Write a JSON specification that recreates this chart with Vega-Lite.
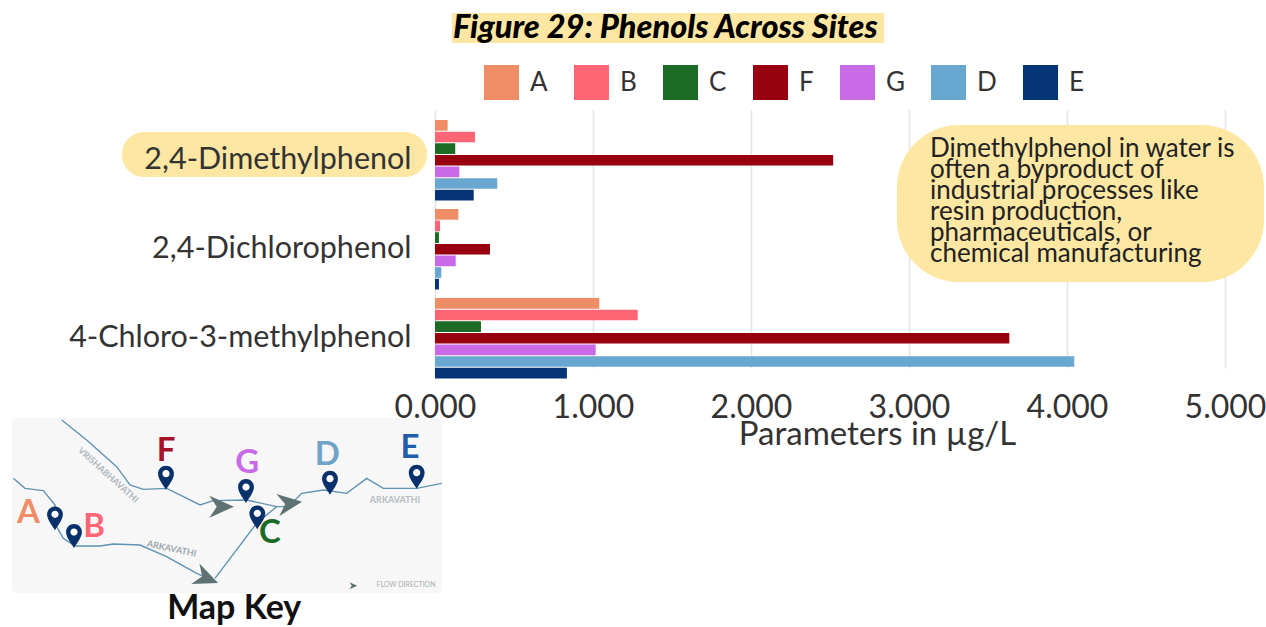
{"$schema":"https://vega.github.io/schema/vega-lite/v6.json","width":790,"height":268,"autosize":"none","padding":{"left":435,"top":110,"right":41,"bottom":249},"background":"white","config":{"view":{"stroke":null},"font":"Lato"},"title":{"text":"Figure 29: Phenols Across Sites","anchor":"start","frame":"group","dx":18,"offset":-32,"font":"Lato","fontSize":32.5,"fontWeight":900,"fontStyle":"italic","color":"#000000"},"resolve":{"scale":{"x":"independent","y":"independent","color":"independent"},"axis":{"x":"independent","y":"independent"}},"layer":[{"data":{"values":[{}]},"mark":{"type":"rect","cornerRadius":0,"color":"#FEE7A3"},"encoding":{"x":{"datum":35.7,"type":"quantitative","scale":{"domain":[0,100],"range":[-435,831]},"axis":null},"x2":{"datum":69.83},"y":{"datum":2.07,"type":"quantitative","scale":{"domain":[0,100],"range":[-110,517]},"axis":null},"y2":{"datum":6.86}}},{"data":{"values":[{}]},"mark":{"type":"rect","cornerRadius":22,"color":"#FEE7A3"},"encoding":{"x":{"datum":9.64,"type":"quantitative","scale":{"domain":[0,100],"range":[-435,831]},"axis":null},"x2":{"datum":33.73},"y":{"datum":21.05,"type":"quantitative","scale":{"domain":[0,100],"range":[-110,517]},"axis":null},"y2":{"datum":28.23}}},{"data":{"values":[{"compound":"2,4-Dimethylphenol","site":"A","value":0.08},{"compound":"2,4-Dimethylphenol","site":"B","value":0.253},{"compound":"2,4-Dimethylphenol","site":"C","value":0.128},{"compound":"2,4-Dimethylphenol","site":"F","value":2.52},{"compound":"2,4-Dimethylphenol","site":"G","value":0.154},{"compound":"2,4-Dimethylphenol","site":"D","value":0.394},{"compound":"2,4-Dimethylphenol","site":"E","value":0.245},{"compound":"2,4-Dichlorophenol","site":"A","value":0.148},{"compound":"2,4-Dichlorophenol","site":"B","value":0.032},{"compound":"2,4-Dichlorophenol","site":"C","value":0.025},{"compound":"2,4-Dichlorophenol","site":"F","value":0.348},{"compound":"2,4-Dichlorophenol","site":"G","value":0.131},{"compound":"2,4-Dichlorophenol","site":"D","value":0.04},{"compound":"2,4-Dichlorophenol","site":"E","value":0.025},{"compound":"4-Chloro-3-methylphenol","site":"A","value":1.04},{"compound":"4-Chloro-3-methylphenol","site":"B","value":1.283},{"compound":"4-Chloro-3-methylphenol","site":"C","value":0.291},{"compound":"4-Chloro-3-methylphenol","site":"F","value":3.635},{"compound":"4-Chloro-3-methylphenol","site":"G","value":1.017},{"compound":"4-Chloro-3-methylphenol","site":"D","value":4.046},{"compound":"4-Chloro-3-methylphenol","site":"E","value":0.835}]},"mark":{"type":"bar"},"encoding":{"x":{"field":"value","type":"quantitative","scale":{"domain":[0,5],"nice":false,"range":[0,790]},"axis":{"values":[0,1,2,3,4,5],"format":".3f","labelFontSize":32,"labelColor":"#333333","labelPadding":14,"labelFont":"Lato","labelOverlap":false,"labelFlush":false,"labelBound":false,"ticks":false,"domain":false,"grid":true,"gridColor":"#E4E4E8","gridWidth":1.5,"title":"Parameters in µg/L","titleFont":"Lato","titleFontSize":33,"titleFontWeight":"normal","titleColor":"#333333","titleX":442,"titleY":40}},"y":{"field":"compound","type":"nominal","sort":null,"scale":{"domain":["2,4-Dimethylphenol","2,4-Dichlorophenol","4-Chloro-3-methylphenol"],"range":[10,268.5],"paddingInner":0.0955,"paddingOuter":0},"axis":{"title":null,"ticks":false,"domain":false,"labelFont":"Lato","labelFontSize":30.5,"labelColor":"#333333","labelPadding":24,"labelLimit":400,"zindex":1}},"yOffset":{"field":"site","type":"nominal","scale":{"domain":["A","B","C","F","G","D","E"],"paddingInner":0.08,"paddingOuter":0}},"color":{"field":"site","type":"nominal","scale":{"domain":["A","B","C","F","G","D","E"],"range":["#EF8E66","#FF6675","#1C6B24","#96000F","#C96AE6","#68A8D0","#043376"]},"legend":{"orient":"none","legendX":49,"legendY":-45,"direction":"horizontal","columns":7,"title":null,"symbolType":"square","symbolSize":1225,"symbolStrokeWidth":0,"symbolOpacity":1,"labelFont":"Lato","labelFontSize":26,"labelColor":"#333333","labelOffset":11,"columnPadding":26,"gridAlign":"none","padding":0}}}},{"data":{"values":[{}]},"mark":{"type":"rect","cornerRadius":62,"color":"#FEE7A3"},"encoding":{"x":{"datum":70.85,"type":"quantitative","scale":{"domain":[0,100],"range":[-435,831]},"axis":null},"x2":{"datum":99.84},"y":{"datum":19.94,"type":"quantitative","scale":{"domain":[0,100],"range":[-110,517]},"axis":null},"y2":{"datum":44.98}}},{"data":{"values":[{}]},"mark":{"type":"text","align":"left","baseline":"middle","font":"Lato","fontSize":26,"lineHeight":21,"color":"#222222"},"encoding":{"x":{"datum":73.46,"type":"quantitative","scale":{"domain":[0,100],"range":[-435,831]},"axis":null},"y":{"datum":23.76,"type":"quantitative","scale":{"domain":[0,100],"range":[-110,517]},"axis":null},"text":{"value":["Dimethylphenol in water is","often a byproduct of","industrial processes like","resin production,","pharmaceuticals, or","chemical manufacturing"]}}},{"data":{"values":[{}]},"mark":{"type":"text","align":"center","baseline":"middle","font":"Lato","fontSize":34,"fontWeight":"bold","color":"#111111"},"encoding":{"x":{"datum":18.5,"type":"quantitative","scale":{"domain":[0,100],"range":[-435,831]},"axis":null},"y":{"datum":97.2,"type":"quantitative","scale":{"domain":[0,100],"range":[-110,517]},"axis":null},"text":{"value":"Map Key"}}},{"encoding":{"x":{"field":"mx","type":"quantitative","scale":{"domain":[0,1350],"range":[-435,15]},"axis":null},"y":{"field":"my","type":"quantitative","scale":{"domain":[0,651],"range":[300,517]},"axis":null}},"layer":[{"data":{"values":[{"mx":36,"my":24,"mx2":1326,"my2":549}]},"mark":{"type":"rect","cornerRadius":5,"color":"#F7F7F8"},"encoding":{"x2":{"field":"mx2"},"y2":{"field":"my2"}}},{"data":{"values":[{"river":"west","mx":40,"my":205},{"river":"west","mx":75,"my":235},{"river":"west","mx":130,"my":242},{"river":"west","mx":165,"my":285},{"river":"west","mx":170,"my":350},{"river":"west","mx":190,"my":385},{"river":"west","mx":225,"my":408},{"river":"west","mx":300,"my":408},{"river":"west","mx":340,"my":402},{"river":"west","mx":420,"my":405},{"river":"west","mx":500,"my":440},{"river":"west","mx":590,"my":490},{"river":"west","mx":640,"my":512},{"river":"north","mx":185,"my":30},{"river":"north","mx":260,"my":90},{"river":"north","mx":350,"my":170},{"river":"north","mx":390,"my":225},{"river":"north","mx":430,"my":238},{"river":"north","mx":500,"my":235},{"river":"north","mx":550,"my":260},{"river":"north","mx":600,"my":285},{"river":"north","mx":640,"my":272},{"river":"north","mx":740,"my":270},{"river":"north","mx":830,"my":290},{"river":"north","mx":870,"my":290},{"river":"rise","mx":645,"my":505},{"river":"rise","mx":770,"my":340},{"river":"rise","mx":830,"my":290},{"river":"east","mx":870,"my":285},{"river":"east","mx":905,"my":250},{"river":"east","mx":970,"my":240},{"river":"east","mx":1040,"my":250},{"river":"east","mx":1100,"my":205},{"river":"east","mx":1150,"my":235},{"river":"east","mx":1250,"my":235},{"river":"east","mx":1325,"my":220}]},"mark":{"type":"line","strokeWidth":1.4,"color":"#5F93B0"},"encoding":{"detail":{"field":"river"}}},{"data":{"values":[{"mx":665,"my":290,"turn":0},{"mx":870,"my":280,"turn":-8},{"mx":620,"my":505,"turn":22},{"mx":1060,"my":527,"turn":0}]},"mark":{"type":"point","filled":true,"opacity":1,"size":600,"color":"#5E7273","shape":"M-1,-0.9 L1,0 L-1,0.9 L-0.4,0 Z"},"encoding":{"angle":{"field":"turn","type":"quantitative","scale":null},"size":{"condition":{"test":"datum.mx === 1060","value":60},"value":600}}},{"data":{"values":[{"site":"A","mx":165,"my":325},{"site":"B","mx":222,"my":378},{"site":"F","mx":498,"my":203},{"site":"G","mx":738,"my":243},{"site":"C","mx":772,"my":322},{"site":"D","mx":990,"my":218},{"site":"E","mx":1250,"my":200}]},"mark":{"type":"point","filled":true,"opacity":1,"size":576,"color":"#08306B","shape":"M0,1 C-0.3,0.5 -0.66,0.1 -0.66,-0.33 A0.66,0.66 0 1 1 0.66,-0.33 C0.66,0.1 0.3,0.5 0,1 Z"}},{"data":{"values":[{"site":"A","mx":165,"my":325},{"site":"B","mx":222,"my":378},{"site":"F","mx":498,"my":203},{"site":"G","mx":738,"my":243},{"site":"C","mx":772,"my":322},{"site":"D","mx":990,"my":218},{"site":"E","mx":1250,"my":200}]},"mark":{"type":"point","filled":true,"opacity":1,"size":576,"color":"#FFFFFF","shape":"M-0.3,-0.33 a0.3,0.3 0 1 0 0.6,0 a0.3,0.3 0 1 0 -0.6,0 Z"}},{"data":{"values":[{"site":"A","mx":85,"my":308},{"site":"B","mx":282,"my":352},{"site":"C","mx":810,"my":370},{"site":"F","mx":498,"my":122},{"site":"G","mx":742,"my":160},{"site":"D","mx":982,"my":135},{"site":"E","mx":1230,"my":115}]},"mark":{"type":"text","font":"Lato","fontSize":33,"fontWeight":"bold","align":"center","baseline":"middle"},"encoding":{"text":{"field":"site"},"color":{"field":"site","type":"nominal","legend":null,"scale":{"domain":["A","B","C","F","G","D","E"],"range":["#EF8E66","#FF6675","#1C6B24","#A5122A","#C96AE6","#6FA3C8","#1E5FA8"]}}}},{"data":{"values":[{"label":"ARKAVATHI","mx":515,"my":416}]},"mark":{"type":"text","font":"Lato","fontSize":9,"fontWeight":"bold","angle":12,"color":"#9AA6AD","align":"center","baseline":"middle"},"encoding":{"text":{"field":"label"}}},{"data":{"values":[{"label":"ARKAVATHI","mx":1185,"my":270}]},"mark":{"type":"text","font":"Lato","fontSize":9,"fontWeight":"bold","color":"#B5BBC0","align":"center","baseline":"middle"},"encoding":{"text":{"field":"label"}}},{"data":{"values":[{"label":"VRISHABHAVATHI","mx":325,"my":195}]},"mark":{"type":"text","font":"Lato","fontSize":9,"fontWeight":"bold","angle":42,"color":"#B0B6BB","align":"center","baseline":"middle"},"encoding":{"text":{"field":"label"}}},{"data":{"values":[{"label":"FLOW DIRECTION","mx":1218,"my":525}]},"mark":{"type":"text","font":"Lato","fontSize":7,"color":"#A8AEB3","align":"center","baseline":"middle"},"encoding":{"text":{"field":"label"}}}]}]}
